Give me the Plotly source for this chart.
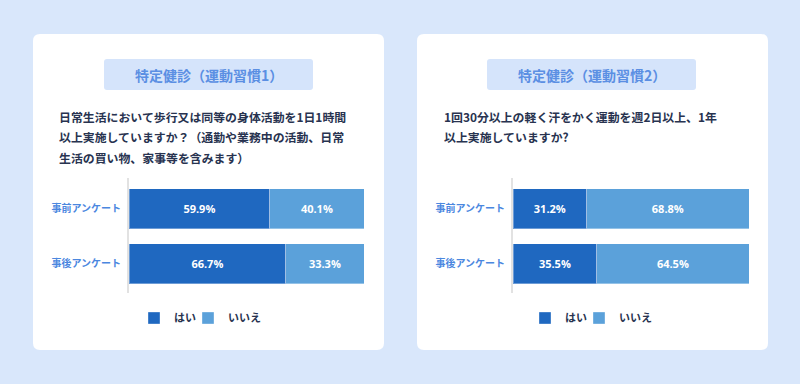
import plotly.graph_objects as go

W, H = 800, 384

categories = ["事前アンケート", "事後アンケート"]
series_names = ["はい", "いいえ"]
left_yes = [59.9, 66.7]
left_no = [40.1, 33.3]
right_yes = [31.2, 35.5]
right_no = [68.8, 64.5]

left_title = "特定健診（運動習慣1）"
right_title = "特定健診（運動習慣2）"
left_question = ["日常生活において歩行又は同等の身体活動を1日1時間",
                 "以上実施していますか？（通勤や業務中の活動、日常",
                 "生活の買い物、家事等を含みます）"]
right_question = ["1回30分以上の軽く汗をかく運動を週2日以上、1年",
                  "以上実施していますか?"]

C_DARK = "#1f68c0"
C_LIGHT = "#5ba1da"
BG = "#d9e7fb"
PILL = "#d5e4fb"
TITLE_C = "#5b8fe3"
TEXT_C = "#283350"
CAT_C = "#4b87df"
JP = "Noto Sans CJK JP"


def px(x):
    return x / W


def py(y):
    return 1 - y / H


def rrect(x0, y0, x1, y1, r):
    rx, ry = r / W, r / H
    X0, X1 = px(x0), px(x1)
    Y0, Y1 = py(y0), py(y1)
    return (f"M{X0+rx},{Y0} L{X1-rx},{Y0} Q{X1},{Y0} {X1},{Y0-ry} "
            f"L{X1},{Y1+ry} Q{X1},{Y1} {X1-rx},{Y1} L{X0+rx},{Y1} "
            f"Q{X0},{Y1} {X0},{Y1+ry} L{X0},{Y0-ry} Q{X0},{Y0} {X0+rx},{Y0} Z")


fig = go.Figure()

panels = [
    ("x", "y", ("legend", "legend3"), left_yes, left_no),
    ("x2", "y2", ("legend2", "legend4"), right_yes, right_no),
]
for xa, ya, lgs, yes, no in panels:
    for name, vals, col, lg in [(series_names[0], yes, C_DARK, lgs[0]),
                                (series_names[1], no, C_LIGHT, lgs[1])]:
        fig.add_trace(go.Bar(
            y=categories, x=vals, name=name, orientation="h",
            xaxis=xa, yaxis=ya, legend=lg,
            marker=dict(color=col, line=dict(color="rgba(255,255,255,0.35)", width=1)),
            width=0.73,
            text=[f"{v:.1f}%" for v in vals],
            textposition="inside", insidetextanchor="middle",
            textfont=dict(family="Open Sans", size=11, color="white", weight=700),
            hoverinfo="skip",
        ))

yax_common = dict(
    type="category", categoryorder="array", categoryarray=categories,
    range=[1.53, -0.56], showline=True, linecolor="#e2e2e2", linewidth=2,
    ticks="", showgrid=False, zeroline=False, ticklabelstandoff=4,
    tickfont=dict(family=JP, size=10, color=CAT_C, weight=700),
    fixedrange=True,
)
xax_common = dict(range=[0, 100], visible=False, fixedrange=True)

shapes = [
    dict(type="path", path=rrect(33, 34, 384, 350, 7), xref="paper", yref="paper",
         fillcolor="white", line=dict(width=0), layer="below"),
    dict(type="path", path=rrect(417, 34, 768, 350, 7), xref="paper", yref="paper",
         fillcolor="white", line=dict(width=0), layer="below"),
    dict(type="path", path=rrect(104, 59, 313, 90, 3), xref="paper", yref="paper",
         fillcolor=PILL, line=dict(width=0), layer="below"),
    dict(type="path", path=rrect(487, 59, 696, 90, 3), xref="paper", yref="paper",
         fillcolor=PILL, line=dict(width=0), layer="below"),
]

TSIZE = 14
annotations = [
    dict(text=left_title, x=px(208.5), y=py(75), xref="paper", yref="paper",
         showarrow=False, xanchor="center", yanchor="middle",
         font=dict(family=JP, size=TSIZE, color=TITLE_C, weight=700)),
    dict(text=right_title, x=px(591.5), y=py(75), xref="paper", yref="paper",
         showarrow=False, xanchor="center", yanchor="middle",
         font=dict(family=JP, size=TSIZE, color=TITLE_C, weight=700)),
]
QSIZE = 11.9
for i, line in enumerate(left_question):
    annotations.append(dict(text=line, x=px(57), y=py(116.5 + 20.5 * i), xref="paper", yref="paper",
                            showarrow=False, xanchor="left", yanchor="middle",
                            font=dict(family=JP, size=QSIZE, color=TEXT_C, weight=700)))
for i, line in enumerate(right_question):
    annotations.append(dict(text=line, x=px(442), y=py(116.5 + 20.5 * i), xref="paper", yref="paper",
                            showarrow=False, xanchor="left", yanchor="middle",
                            font=dict(family=JP, size=QSIZE, color=TEXT_C, weight=700)))

legend_common = dict(
    orientation="h", yanchor="middle", xanchor="left", traceorder="normal",
    font=dict(family=JP, size=11, color=TEXT_C, weight=700),
    bgcolor="rgba(0,0,0,0)",
    itemclick=False, itemdoubleclick=False,
)

fig.update_layout(
    width=W, height=H,
    margin=dict(l=0, r=0, t=0, b=0),
    paper_bgcolor=BG, plot_bgcolor="rgba(0,0,0,0)",
    barmode="stack", bargap=0.27,
    showlegend=True,
    xaxis=dict(domain=[px(129), px(364)], anchor="y", **xax_common),
    yaxis=dict(domain=[py(293), py(178)], anchor="x", **yax_common),
    xaxis2=dict(domain=[px(513), px(749)], anchor="y2", **xax_common),
    yaxis2=dict(domain=[py(293), py(178)], anchor="x2", **yax_common),
    legend=dict(x=px(134), y=py(318), **legend_common),
    legend3=dict(x=px(188), y=py(318), **legend_common),
    legend2=dict(x=px(525), y=py(318), **legend_common),
    legend4=dict(x=px(579), y=py(318), **legend_common),
    shapes=shapes,
    annotations=annotations,
)

fig.write_html("out.html", config={"displayModeBar": False},
               post_script="document.body.style.margin='0';document.body.style.background='" + BG + "';")
